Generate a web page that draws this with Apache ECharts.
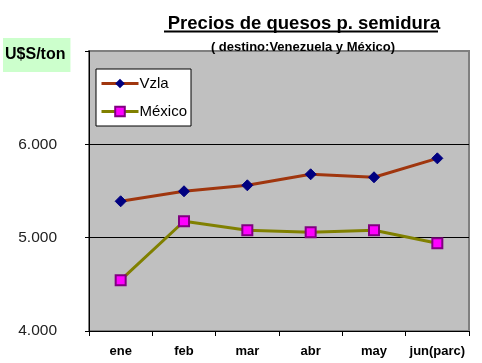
<!DOCTYPE html>
<html><head><meta charset="utf-8">
<script src="https://cdn.jsdelivr.net/npm/echarts@6/dist/echarts.min.js"></script>
<style>html,body{margin:0;padding:0;background:#fff}#c{width:482px;height:363px}</style>
</head><body><div id="c"></div>
<script>
const categories = ['ene','feb','mar','abr','may','jun(parc)'];
const vzla = [5390, 5497, 5561, 5679, 5647, 5850];
const mexico = [4545, 5176, 5080, 5059, 5080, 4941];
const yTicks = [4000, 5000, 6000, 7000];

const chart = echarts.init(document.getElementById('c'), null, {renderer:'canvas'});
const fmt = v => (v === 7000 ? '' : String(v).replace(/\B(?=(\d{3})+(?!\d))/g, '.'));
const FF = 'Arial, Liberation Sans, sans-serif';
chart.setOption({
  animation:false,
  textStyle:{fontFamily:FF},
  title:[
    {text:'Precios de quesos p. semidura', left:299, textAlign:'center', top:9,
     textStyle:{fontSize:18.5, fontWeight:'bold', color:'#000', fontFamily:FF}},
    {text:'( destino:Venezuela y México)', left:298, textAlign:'center', top:36,
     textStyle:{fontSize:13, fontWeight:'bold', color:'#000', fontFamily:FF}},
    {text:'U$S/ton', left:3, top:38, padding:[9,5,9,2], backgroundColor:'#ccffcc',
     textStyle:{fontSize:16, fontWeight:'bold', color:'#000', fontFamily:FF}}
  ],
  graphic:[{type:'line', shape:{x1:164,y1:31.5,x2:438,y2:31.5}, style:{stroke:'#000', lineWidth:2}}],
  legend:{orient:'vertical', left:96, top:69, backgroundColor:'#fff', borderColor:'#000', borderWidth:1,
    padding:[7,4,7,4], itemGap:13, itemWidth:37, itemHeight:12,
    textStyle:{fontSize:15, color:'#000', fontFamily:FF, padding:[0,0,0,-4]},
    data:[{name:'Vzla', lineStyle:{width:3}}, {name:'México', lineStyle:{width:3}}]},
  grid:{left:89, right:13, top:51, bottom:32, show:true, backgroundColor:'#c0c0c0', borderColor:'#808080', borderWidth:2},
  xAxis:{type:'category', data:categories, boundaryGap:true,
    axisLine:{lineStyle:{color:'#000', width:1}},
    axisTick:{show:true, length:5, lineStyle:{color:'#000'}},
    axisLabel:{fontSize:13, fontWeight:'bold', color:'#000', margin:14, interval:0}},
  yAxis:{type:'value', min:4000, max:7000, interval:1000,
    axisLine:{show:true, lineStyle:{color:'#000', width:1}},
    axisTick:{show:true, length:4, lineStyle:{color:'#000'}},
    axisLabel:{fontSize:15.5, color:'#222', margin:32, formatter:fmt},
    splitLine:{show:true, lineStyle:{color:['#000','#000','#000','#808080'], width:1}}},
  series:[
    {name:'Vzla', type:'line', data:vzla, symbol:'diamond', symbolSize:11,
     lineStyle:{color:'#a0360e', width:3}, itemStyle:{color:'#000080', borderColor:'#000080'}},
    {name:'México', type:'line', data:mexico, symbol:'rect', symbolSize:10,
     lineStyle:{color:'#808000', width:3}, itemStyle:{color:'#ff00ff', borderColor:'#800080', borderWidth:2}}
  ]
});
</script></body></html>
